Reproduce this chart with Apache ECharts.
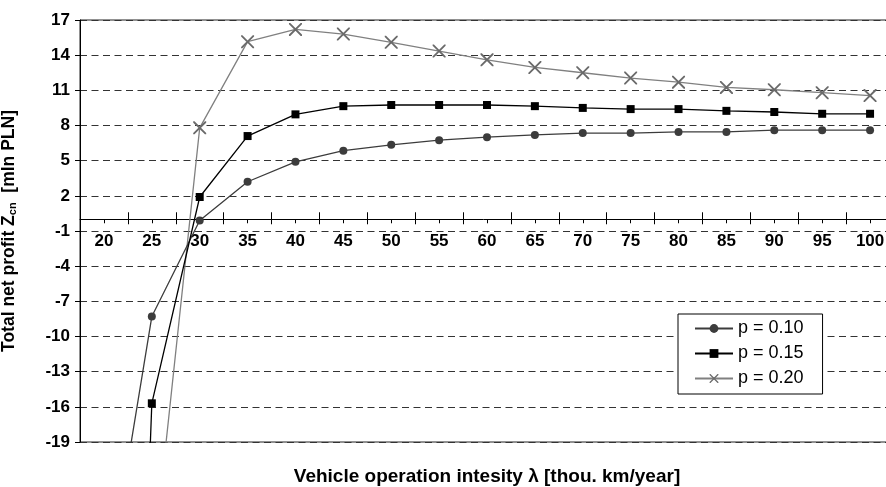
<!DOCTYPE html>
<html>
<head>
<meta charset="utf-8">
<script src="https://cdn.jsdelivr.net/npm/echarts@6/dist/echarts.min.js"></script>
<style>
  html, body { margin: 0; padding: 0; background: #fff; }
  #main { width: 886px; height: 487px; }
</style>
</head>
<body>
<div id="main"></div>
<script>
// intensity categories (thou. km/year)
var categories = ['20', '25', '30', '35', '40', '45', '50', '55', '60', '65', '70', '75', '80', '85', '90', '95', '100'];

// total net profit, mln PLN
var p010 = [-33.2, -8.3, -0.1, 3.2, 4.9, 5.85, 6.35, 6.75, 7.0, 7.2, 7.35, 7.35, 7.45, 7.45, 7.6, 7.6, 7.6];
var p015 = [-125, -15.7, 1.9, 7.1, 8.95, 9.65, 9.75, 9.75, 9.75, 9.65, 9.5, 9.4, 9.4, 9.25, 9.15, 9.0, 9.0];
var p020 = [-200, -30.4, 7.8, 15.15, 16.2, 15.8, 15.1, 14.35, 13.6, 12.95, 12.5, 12.05, 11.7, 11.25, 11.05, 10.8, 10.55];

var seriesNames = ['p = 0.10', 'p = 0.15', 'p = 0.20'];

var yMin = -19, yMax = 17, yStep = 3;

var FONT = 'Liberation Sans, Arial, sans-serif';
var crossPath = 'path://M0,0L1.2,0L12,10.8L12,12L10.8,12L0,1.2Z M10.8,0L12,0L12,1.2L1.2,12L0,12L0,10.8Z';

// plot box
var gridTop = 20, gridHeight = 422;
// the category axis sits on the zero line, pulled up from the bottom edge
var zeroShift = -gridHeight * (0 - yMin) / (yMax - yMin);

var chart = echarts.init(document.getElementById('main'), null, { renderer: 'canvas' });

// the three x axes share the same categories: labels + lower ticks, upper ticks, centre ticks
function xAxisBase() {
  return {
    type: 'category',
    data: categories,
    position: 'bottom',
    offset: zeroShift,
    boundaryGap: true,
    axisLine: { onZero: false, show: false },
    axisLabel: { show: false },
    splitLine: { show: false }
  };
}

var xMain = xAxisBase();
xMain.axisLine = { onZero: false, show: true, lineStyle: { color: '#000', width: 1 } };
xMain.axisTick = { show: true, inside: false, length: 5, lineStyle: { color: '#000' } };
xMain.axisLabel = { show: true, margin: 14, color: '#000', fontFamily: FONT, fontWeight: 'bold', fontSize: 17 };
xMain.name = 'Vehicle operation intesity λ [thou. km/year]';
xMain.nameLocation = 'middle';
xMain.nameGap = 248;
xMain.nameTextStyle = { color: '#000', fontFamily: FONT, fontWeight: 'bold', fontSize: 19 };

var xUp = xAxisBase();
xUp.axisTick = { show: true, inside: true, length: 7, lineStyle: { color: '#000' } };

var xMid = xAxisBase();
xMid.axisTick = { show: true, inside: false, alignWithLabel: true, length: 4, lineStyle: { color: '#000' } };

var option = {
  backgroundColor: '#fff',
  animation: false,
  grid: {
    left: 80,
    top: gridTop,
    width: 814,
    height: gridHeight,
    outerBoundsMode: 'none',
    containLabel: false,
    show: true,
    borderColor: '#222',
    borderWidth: 1,
    backgroundColor: 'transparent'
  },
  legend: {
    orient: 'vertical',
    left: 678,
    top: 314,
    padding: [5, 19, 6, 16],
    itemWidth: 38,
    itemHeight: 11,
    itemGap: 6,
    backgroundColor: '#fff',
    borderColor: '#000',
    borderWidth: 1,
    borderRadius: 0,
    data: seriesNames,
    textStyle: { color: '#000', fontFamily: FONT, fontSize: 18, lineHeight: 19 }
  },
  xAxis: [xMain, xUp, xMid],
  yAxis: {
    type: 'value',
    min: yMin,
    max: yMax,
    interval: yStep,
    axisLine: { show: true, lineStyle: { color: '#000', width: 1 } },
    axisTick: { show: true, inside: false, length: 5, lineStyle: { color: '#000' } },
    axisLabel: { margin: 10, color: '#000', fontFamily: FONT, fontWeight: 'bold', fontSize: 17, showMinLabel: true, showMaxLabel: true, hideOverlap: false },
    splitLine: { show: true, lineStyle: { color: '#333', width: 1, type: [7, 4.5] } },
    name: '{b|Total net profit Z}{s|cn}{b|  [mln PLN]}',
    nameLocation: 'middle',
    nameGap: 62,
    nameTextStyle: {
      rich: {
        b: { color: '#000', fontFamily: FONT, fontWeight: 'bold', fontSize: 17.5 },
        s: { color: '#000', fontFamily: FONT, fontWeight: 'bold', fontSize: 11, padding: [7, 0, 0, 0] }
      }
    }
  },
  series: [
    {
      name: seriesNames[0],
      type: 'line',
      data: p010,
      symbol: 'circle',
      symbolSize: 8,
      showAllSymbol: true,
      clip: true,
      color: '#3c3c3c',
      lineStyle: { color: '#3c3c3c', width: 1.3 },
      itemStyle: { color: '#3c3c3c' },
      z: 4
    },
    {
      name: seriesNames[1],
      type: 'line',
      data: p015,
      symbol: 'rect',
      symbolSize: 8,
      showAllSymbol: true,
      clip: true,
      color: '#000',
      lineStyle: { color: '#000', width: 1.3 },
      itemStyle: { color: '#000' },
      z: 4
    },
    {
      name: seriesNames[2],
      type: 'line',
      data: p020,
      symbol: crossPath,
      symbolSize: 13,
      showAllSymbol: true,
      clip: true,
      color: '#777',
      lineStyle: { color: '#808080', width: 1.3 },
      itemStyle: { color: '#6a6a6a' },
      z: 3
    }
  ]
};

chart.setOption(option);
</script>
</body>
</html>
